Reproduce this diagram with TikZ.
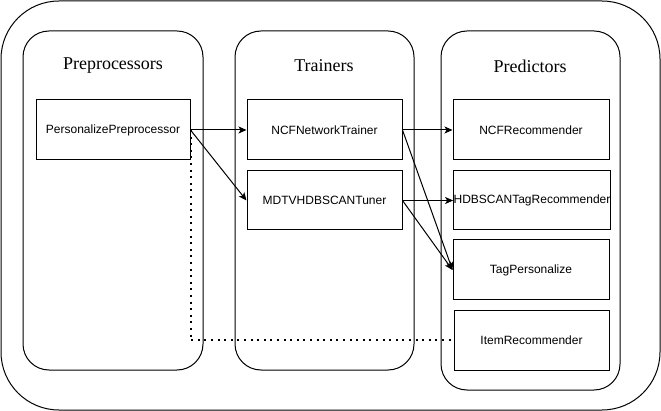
\documentclass[tikz,border=0pt]{standalone}
\usepackage{fontspec}
\setmainfont{Liberation Serif}
\setsansfont{Liberation Sans}
\usetikzlibrary{arrows.meta}
\begin{document}
\begin{tikzpicture}[x=1pt,y=-1pt,
  container/.style={draw=black, line width=1pt, rounded corners=26pt},
  title/.style={font=\fontsize{18}{20}\selectfont\rmfamily},
  comp/.style={draw=black, line width=1pt, font=\fontsize{12}{14}\sffamily},
  conn/.style={line width=1pt, -{Stealth[length=8pt,width=7pt,inset=2pt]}},
  dots/.style={line width=2pt, dash pattern=on 2pt off 4.6pt}
]
\useasboundingbox (0,0) rectangle (661,411);
\draw[line width=1pt, rounded corners=58pt] (1,1) rectangle (660,410);
% containers
\draw[container] (23,31) rectangle (203,370);
\draw[container] (235,31) rectangle (414,370);
\draw[container] (441,31) rectangle (620,390);
\node[title] (tpre) at (113,66) {Preprocessors};
\node[title] (ttr) at (324,66) {Trainers};
\node[title] (tpred) at (530,66) {Predictors};
% components
\node[comp, minimum width=154pt, minimum height=60pt] (pp) at (113,130) {PersonalizePreprocessor};
\node[comp, minimum width=155pt, minimum height=60pt] (ncft) at (324.5,130) {NCFNetworkTrainer};
\node[comp, minimum width=155pt, minimum height=59pt] (mdtv) at (324.5,200.5) {MDTVHDBSCANTuner};
\node[comp, minimum width=156pt, minimum height=60pt] (ncfr) at (531,130) {NCFRecommender};
\node[comp, minimum width=156pt, minimum height=59pt, inner sep=0pt] (hdb) at (532,200.5) {HDBSCANTagRecommender};
\node[comp, minimum width=156pt, minimum height=60pt] (tag) at (531,270) {TagPersonalize};
\node[comp, minimum width=155pt, minimum height=59pt] (item) at (531.5,340.5) {ItemRecommender};
% connectors
\draw[conn] (pp.east) -- (ncft.west);
\draw[conn] (pp.east) -- (mdtv.west);
\draw[conn] (ncft.east) -- (ncfr.west);
\draw[conn] (ncft.east) -- (tag.west);
\draw[conn] (mdtv.east) -- (hdb.west);
\draw[conn] (mdtv.east) -- (tag.west);
\draw[dots] (pp.east) |- (item.west);
\end{tikzpicture}
\end{document}
